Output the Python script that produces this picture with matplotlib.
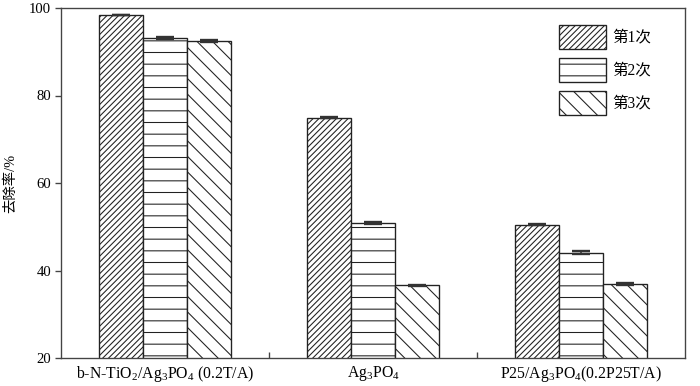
import matplotlib
matplotlib.use("Agg")
import matplotlib.pyplot as plt
import numpy as np

plt.rcParams['font.family'] = ['Liberation Serif', 'Noto Sans CJK SC']
plt.rcParams['mathtext.fontset'] = 'custom'
plt.rcParams['mathtext.rm'] = 'Liberation Serif'
plt.rcParams['hatch.linewidth'] = 0.55

categories = ['b-N-TiO$_2$/Ag$_3$PO$_4$ (0.2T/A)', 'Ag$_3$PO$_4$', 'P25/Ag$_3$PO$_4$(0.2P25T/A)']
series = ['第1次', '第2次', '第3次']
values = [
    [98.4, 74.9, 50.5],
    [93.2, 50.9, 44.1],
    [92.4, 36.6, 36.9],
]
errors = [
    [0.1, 0.1, 0.2],
    [0.2, 0.3, 0.4],
    [0.2, 0.1, 0.2],
]
hatches = ['/' * 8, '--', '\\' * 3]

fig = plt.figure(figsize=(5.0, 386/140), dpi=140)
ax = fig.add_axes([61/700, 28/386, 624/700, 350/386])

x = np.arange(len(categories))
w = 0.213
for i, (s, v, e, h) in enumerate(zip(series, values, errors, hatches)):
    ax.bar(x + (i - 1) * w, v, w, bottom=0, color='white', edgecolor='#222222',
           linewidth=0.7, hatch=h, label=s,
           yerr=e, error_kw=dict(ecolor='#333333', elinewidth=0.8, capsize=4.5, capthick=1.2))

ax.set_xlim(-0.5, 2.5)
ax.set_ylim(20, 100)
ax.set_yticks([20, 40, 60, 80, 100])
ax.set_xticks(x)
ax.set_xticklabels(categories, fontsize=8.1)
ax.tick_params(axis='x', which='major', length=0, pad=3)
ax.set_xticks([0.5, 1.5], minor=True)
ax.tick_params(axis='x', which='minor', direction='in', length=3, width=0.7, color='#444444')
ax.tick_params(axis='y', direction='out', length=3, width=0.7, labelsize=7.6, color='#444444', pad=2)
for sp in ax.spines.values():
    sp.set_linewidth(0.7)
    sp.set_color('#444444')

ax.set_ylabel('去除率/%', fontsize=7.4, labelpad=6)

ax.legend(loc='upper right', bbox_to_anchor=(599/624, 0.979), frameon=False, fontsize=8,
          handlelength=3.0, handleheight=2.0, labelspacing=0.58, handletextpad=0.39,
          borderaxespad=0.2)

fig.savefig('out.png', dpi=140)
